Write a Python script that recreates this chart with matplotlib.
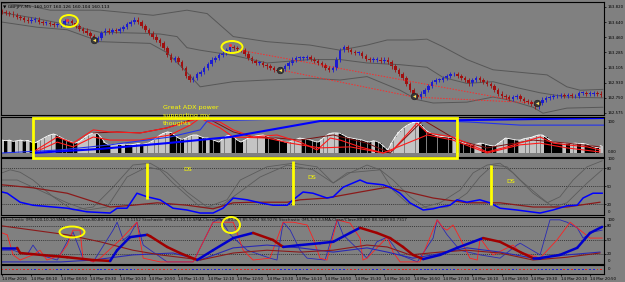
import numpy as np
import matplotlib
matplotlib.use('Agg')
import matplotlib.pyplot as plt
from matplotlib.patches import Rectangle, Ellipse

W, H = 625, 282
BG = '#808080'
BULL = '#1c1cd0'; BEAR = '#a01010'
YEL = '#ffff00'

# ---- price panel (GBPJPY M5 closes, one per bar) ----
closes = [
    163.76, 163.75, 163.74, 163.72, 163.70, 163.69, 163.67, 163.65, 163.67, 163.67,
    163.64, 163.63, 163.63, 163.62, 163.61, 163.61, 163.62, 163.65, 163.65, 163.63,
    163.59, 163.56, 163.54, 163.51, 163.48, 163.43, 163.45, 163.51, 163.54, 163.52,
    163.55, 163.54, 163.56, 163.58, 163.62, 163.64, 163.67, 163.64, 163.59, 163.55,
    163.51, 163.47, 163.43, 163.39, 163.34, 163.25, 163.20, 163.22, 163.17, 163.10,
    163.01, 162.96, 162.98, 163.03, 163.05, 163.10, 163.15, 163.20, 163.22, 163.25,
    163.28, 163.31, 163.35, 163.34, 163.32, 163.31, 163.27, 163.22, 163.18, 163.16,
    163.16, 163.14, 163.12, 163.10, 163.08, 163.07, 163.09, 163.12, 163.16, 163.20,
    163.22, 163.22, 163.22, 163.23, 163.21, 163.18, 163.16, 163.14, 163.10, 163.08,
    163.10, 163.20, 163.31, 163.35, 163.31, 163.29, 163.28, 163.28, 163.24, 163.21,
    163.20, 163.20, 163.20, 163.18, 163.20, 163.17, 163.12, 163.08, 163.03, 162.98,
    162.91, 162.84, 162.78, 162.76, 162.80, 162.84, 162.89, 162.94, 162.96, 162.96,
    162.98, 163.01, 163.03, 163.03, 163.01, 162.98, 162.96, 162.92, 162.96, 162.98,
    162.96, 162.94, 162.91, 162.89, 162.84, 162.80, 162.77, 162.76, 162.74, 162.76,
    162.77, 162.74, 162.71, 162.70, 162.68, 162.65, 162.69, 162.73, 162.75, 162.76,
    162.77, 162.77, 162.78, 162.77, 162.78, 162.77, 162.77, 162.81, 162.81, 162.80,
    162.80, 162.81, 162.80, 162.78]
first_open = 163.77
price_ticks = [163.820, 163.640, 163.460, 163.285, 163.105, 162.930, 162.750, 162.575]

bb_up_x = [0, 7.6, 13.1, 26.7, 34, 41.1, 50.3, 55.8, 62.9, 72.1, 83.8, 92, 99.3, 104.8, 111.8, 115.6, 120, 126.5, 133.6, 141, 148.3, 153.7, 157.3, 163.5]
bb_up_y = [163.86, 163.83, 163.78, 163.78, 163.75, 163.72, 163.78, 163.74, 163.47, 163.41, 163.37, 163.31, 163.37, 163.43, 163.43, 163.44, 163.35, 163.20, 163.08, 163.05, 163.02, 162.88, 162.84, 162.85]
bb_mid_x = [0, 8.4, 17.7, 26.7, 37.6, 43, 47.6, 50.3, 53.9, 62.9, 72.1, 83.8, 92, 99.3, 108.3, 115.6, 120, 126.5, 133.6, 140.1, 146.4, 153.7, 163.5]
bb_mid_y = [163.75, 163.69, 163.61, 163.52, 163.51, 163.50, 163.47, 163.34, 163.31, 163.25, 163.16, 163.20, 163.20, 163.16, 163.14, 163.11, 162.99, 162.92, 162.94, 162.87, 162.81, 162.76, 162.75]
bb_lo_x = [0, 9.5, 17.7, 26.7, 40.3, 44.9, 50.3, 53.9, 62.9, 72.1, 83.8, 92, 99.3, 108.3, 112.9, 117.3, 126.5, 133.6, 137.4, 144.5, 147.2, 153.7, 163.5]
bb_lo_y = [163.64, 163.58, 163.55, 163.41, 163.39, 163.28, 163.05, 162.88, 162.94, 162.96, 162.98, 162.96, 163.00, 162.84, 162.73, 162.69, 162.70, 162.76, 162.73, 162.64, 162.57, 162.63, 162.64]

signal_x = [25, 75.6, 112, 145.6]
signal_y = [163.43, 163.08, 162.77, 162.69]
mark_x = [17.7, 62]
mark_y = [163.67, 163.37]
trend_lines = [((64.8, 163.31), (138.2, 162.73)),
               ((75.6, 163.08), (112.1, 162.76)),
               ((112.1, 162.76), (145.6, 162.69))]

# ---- ADX panel ----
adx_hist = [
    38, 36, 38, 34, 36, 38, 35, 37, 32, 30,
    36, 42, 48, 53, 56, 52, 46, 40, 36, 32,
    29, 34, 42, 50, 56, 59, 57, 45, 30, 24,
    25, 26, 24, 27, 25, 24, 26, 28, 25, 27,
    30, 36, 45, 53, 58, 62, 60, 52, 44, 40,
    44, 50, 53, 53, 48, 44, 44, 40, 36, 32,
    42, 50, 53, 48, 38, 32, 38, 44, 47, 50,
    52, 53, 50, 45, 44, 40, 36, 32, 32, 36,
    40, 44, 42, 40, 38, 34, 32, 40, 50, 57,
    59, 59, 58, 52, 46, 44, 42, 40, 38, 34,
    32, 36, 34, 28, 18, 9, 30, 48, 62, 72,
    80, 86, 90, 91, 82, 70, 62, 56, 52, 49,
    48, 47, 46, 46, 40, 32, 28, 26, 24, 26,
    29, 28, 24, 22, 20, 28, 36, 44, 42, 40,
    38, 38, 42, 44, 46, 50, 53, 53, 46, 38,
    32, 30, 29, 29, 28, 28, 29, 28, 28, 26,
    22, 18, 16, 22]
adx_blueA_x = [8.4, 26.7, 44.9, 62, 86.5, 108.3, 127.3, 163.8]
adx_blueA_y = [0, 12, 29, 47, 94, 94, 97, 103]
adx_blueB_x = [0, 15.8, 29.4, 45.7, 53.9, 55.8, 86.5, 113.7, 127.3, 141, 163.8]
adx_blueB_y = [0, 9, 24, 47, 68, 94, 103, 97, 91, 82, 82]
adx_red1_x = [8.4, 15, 19.3, 24.8, 29.4, 37.6, 44.9, 53.9, 59.3, 62.9, 68.3, 74.8, 81.1, 85.7, 89.3, 92, 97.4, 103.7, 106.4, 112.9, 115.7, 119.2, 122.7, 132, 137.4, 146.4, 150, 153.7, 159.2, 162.7]
adx_red1_y = [3, 47, 29, 68, 62, 59, 74, 103, 91, 68, 47, 53, 32, 9, 44, 38, 18, 0, 9, 88, 59, 53, 47, 3, 18, 47, 29, 24, 18, 9]
adx_red2_x = [8.4, 15, 19.3, 24.8, 29.4, 37.6, 45.7, 51.2, 53.9, 59.3, 62.9, 72.1, 78.4, 86.5, 94.7, 103.7, 115.7, 122.7, 132, 141, 146.4, 153.7, 162.7]
adx_red2_y = [0, 32, 18, 47, 38, 38, 53, 82, 103, 74, 47, 44, 29, 15, 18, 0, 53, 38, 0, 24, 29, 15, 3]
adx_dark_x = [24.8, 31.3, 37.6, 44.9, 51.2, 55.8, 62.9, 68.3, 74.8, 81.1, 90.1, 99.3, 105.6, 114.6, 123.8, 132, 144.5, 153.7, 162.7]
adx_dark_y = [59, 62, 59, 74, 97, 103, 62, 47, 44, 38, 53, 29, 0, 97, 38, 15, 38, 29, 18]

# ---- oscillator panel 3 ----
p3_blue_x = [0, 1.4, 4.9, 8.4, 17.7, 23.1, 29.4, 31.3, 34, 36.7, 39.5, 43, 46.5, 50.3, 53.9, 57.4, 60.1, 62.9, 66.7, 70.2, 73.7, 77.6, 79.2, 81.9, 84.6, 88.4, 90.1, 92.8, 97.4, 99.3, 103.7, 105.6, 108.3, 111, 114.6, 117.3, 119.2, 121.9, 123.8, 126.5, 130, 132.8, 135.5, 140.1, 146.4, 149.9, 153.7, 156.5, 158.1, 160.8, 163.3]
p3_blue_y = [40, 38, 23, 18, 13, 7, 5, 13, 13, 38, 32, 27, 13, 10, 5, 5, 13, 30, 27, 22, 18, 18, 27, 40, 38, 30, 32, 48, 60, 55, 52, 48, 38, 22, 10, 12, 15, 18, 27, 23, 27, 22, 13, 10, 5, 10, 17, 18, 30, 38, 38]
p3_red_x = [0, 8.4, 17.7, 29.4, 35.6, 42.2, 50.3, 57.4, 62.9, 68.3, 77.6, 81.1, 88.4, 97.4, 104.8, 108.3, 117.3, 126.5, 135.5, 144.5, 153.7, 162.7]
p3_red_y = [52, 47, 38, 15, 18, 22, 18, 12, 22, 23, 23, 27, 30, 40, 48, 43, 30, 22, 22, 15, 15, 23]
p3_gray1_x = [0, 2.2, 4.9, 8.4, 13.9, 19.3, 24.8, 30.2, 35.6, 40.3, 44.9, 50.3, 55.8, 61.2, 64.8, 72.1, 79.2, 85.7, 90.1, 94.7, 99.3, 102.9, 106.4, 110.2, 113.7, 119.2, 124.6, 128.2, 132, 135.5, 139, 144.5, 148.3, 151.8, 155.4, 159.2, 163.3]
p3_gray1_y = [72, 77, 73, 60, 32, 10, 15, 48, 85, 88, 72, 40, 15, 27, 60, 82, 88, 82, 55, 72, 85, 77, 43, 22, 13, 22, 43, 72, 85, 88, 72, 38, 22, 32, 60, 82, 92]
p3_gray2_x = [0, 4.1, 8.4, 17.7, 23.1, 28.6, 34, 39.5, 43, 46.5, 53.9, 59.3, 62.9, 70.2, 77.6, 84.6, 90.1, 93.9, 102.9, 106.4, 111, 115.6, 121.1, 126.5, 130, 133.6, 137.4, 141, 146.4, 149.9, 153.7, 159.2, 163.3]
p3_gray2_y = [60, 60, 48, 22, 10, 15, 65, 82, 77, 55, 15, 15, 32, 65, 85, 77, 55, 72, 77, 60, 32, 13, 15, 38, 65, 85, 82, 60, 32, 15, 22, 55, 77]
ds_bar_x = [39.5, 79.2, 133.1]
ds_bar_top = [88, 92, 85]
ds_bar_bot = [28, 18, 18]
ds_x = [50.6, 84.4, 138.5]
ds_y = [77, 65, 57]

# ---- stochastic panel 4 ----
st_slow_x = [0, 4.1, 4.9, 17.7, 24.8, 29.4, 31.3, 34.8, 39.5, 40.3, 44.9, 48.4, 53.1, 57.4, 62.9, 68.3, 73.7, 76.5, 81.1, 86.5, 90.1, 94.7, 97.4, 102, 105.6, 109.1, 111.8, 114.6, 119.2, 123.8, 128.2, 130.9, 135.5, 141, 144.5, 146.4, 151.8, 156.5, 160, 163.3]
st_slow_y = [33, 33, 22, 13, 7, 5, 28, 56, 61, 58, 35, 22, 7, 28, 54, 65, 50, 35, 39, 43, 46, 65, 76, 65, 54, 35, 18, 9, 18, 33, 46, 54, 46, 24, 11, 11, 18, 33, 65, 78]
st_sig_x = [0, 8.4, 17.7, 26.7, 35.6, 43, 50.3, 53.9, 62.9, 72.1, 81.1, 90.1, 99.3, 104.8, 111, 119.2, 126.5, 135.5, 144.5, 153.7, 162.7]
st_sig_y = [80, 71, 61, 46, 28, 18, 11, 7, 22, 28, 24, 28, 39, 35, 18, 24, 28, 22, 7, 13, 22]
st_mid_x = [0, 16, 24.8, 35.6, 46.5, 53.9, 62.9, 72.1, 81.1, 90.1, 99.3, 104.8, 111.8, 117.3, 126.5, 135.5, 144.5, 153.7, 162.7]
st_mid_y = [3, 3, 7, 18, 22, 7, 33, 39, 33, 24, 33, 24, 11, 18, 33, 24, 11, 18, 24]
st_fastr_x = [0, 1.4, 3, 4.9, 8.4, 10.3, 12.2, 15.8, 17.7, 19.3, 21.2, 22, 24.8, 26.7, 32.1, 36.7, 38.4, 43, 52, 57.4, 62.9, 65.6, 68.3, 72.9, 76.5, 79.2, 83, 84.6, 86.5, 88.4, 91.2, 94.7, 97.4, 98.2, 99.3, 102, 104.8, 106.4, 108.3, 113.7, 118.4, 120, 121.1, 122.7, 124.6, 127.3, 129.3, 130.1, 132, 133.6, 139, 141, 143.7, 146.4, 151, 154.6, 156.5, 160, 163.3]
st_fastr_y = [65, 61, 18, 7, 18, 28, 7, 18, 39, 71, 71, 11, 3, 11, 50, 88, 11, 3, 3, 88, 88, 28, 7, 11, 88, 88, 82, 54, 11, 7, 93, 86, 54, 7, 11, 33, 56, 24, 3, 3, 93, 76, 71, 82, 54, 11, 7, 54, 33, 18, 39, 24, 18, 11, 50, 88, 76, 54, 54]
st_fastb_x = [0, 3, 6.8, 8.4, 10.3, 15, 17.7, 19.3, 22, 24.8, 30.2, 31.3, 33, 34.8, 36.7, 38.4, 44.9, 52, 57.4, 59.3, 62.1, 66.7, 72.9, 74.8, 76.5, 78.4, 81.1, 83, 87.9, 90.1, 91.2, 92.8, 99.3, 102, 104.8, 108.3, 113, 117.3, 118.4, 121.1, 124.6, 130.1, 135.5, 140.1, 141, 146.4, 149.1, 151.8, 153.7, 156.5, 158.1, 160.8, 163.3]
st_fastb_y = [28, 28, 18, 39, 18, 7, 46, 67, 11, 3, 71, 88, 50, 61, 88, 39, 3, 3, 88, 97, 61, 28, 11, 7, 88, 71, 28, 11, 7, 67, 93, 61, 11, 46, 56, 18, 3, 54, 93, 61, 28, 18, 11, 39, 43, 18, 93, 93, 88, 76, 54, 67, 71]

time_labels = ['14 Mar 2016', '14 Mar 08:10', '14 Mar 08:50', '14 Mar 09:30', '14 Mar 10:10',
               '14 Mar 10:50', '14 Mar 11:30', '14 Mar 12:10', '14 Mar 12:50', '14 Mar 13:30',
               '14 Mar 14:10', '14 Mar 14:50', '14 Mar 15:30', '14 Mar 16:10', '14 Mar 16:50',
               '14 Mar 17:30', '14 Mar 18:10', '14 Mar 18:50', '14 Mar 19:30', '14 Mar 20:10',
               '14 Mar 20:50']
bars_per_label = 8

TXT = 2.8
fig = plt.figure(figsize=(W/100, H/100), dpi=100, facecolor=BG)

def box(x0, y0, x1, y1):
    ax = fig.add_axes([x0/W, 1-y1/H, (x1-x0)/W, (y1-y0)/H], facecolor=BG)
    for s in ax.spines.values():
        s.set_color('black'); s.set_linewidth(0.8)
    ax.set_xlim(-0.3, 163.8)
    ax.set_xticks([])
    ax.yaxis.tick_right()
    ax.tick_params(axis='y', labelsize=TXT, length=1.5, width=0.5, pad=0.8, colors='black')
    return ax

def edge_label(ax, txt, yfrac):
    ax.text(1.006, yfrac, txt, transform=ax.transAxes, fontsize=TXT, va='center', ha='left')

n = len(closes)
idx = np.arange(n)
c = np.array(closes)
o = np.array([first_open] + closes[:-1])
up = c >= o

# price
ax1 = box(1, 2, 604, 115)
ax1.set_ylim(162.549, 163.876)
ax1.plot(bb_up_x, bb_up_y, color='#575757', lw=0.7)
ax1.plot(bb_mid_x, bb_mid_y, color='#575757', lw=0.7)
ax1.plot(bb_lo_x, bb_lo_y, color='#575757', lw=0.7)
for (xa, ya), (xb, yb) in trend_lines:
    ax1.plot([xa, xb], [ya, yb], color='#ff2a2a', lw=0.7, ls=(0, (1.5, 1.5)))
cols = np.where(up, BULL, BEAR)
ax1.vlines(idx, np.minimum(o, c) - 0.025, np.maximum(o, c) + 0.025, color=cols, lw=0.6)
ax1.bar(idx, np.maximum(np.abs(c - o), 0.006), bottom=np.minimum(o, c), width=0.7, color=cols, lw=0)
ax1.scatter(signal_x, signal_y, s=22, color='#3a3a3a', edgecolor='#222222', lw=0.5, zorder=5)
ax1.scatter(signal_x, signal_y, s=5, marker='<', color='#ffe060', lw=0, zorder=6)
ax1.scatter(mark_x, mark_y, s=5, color='#ff3030', lw=0, zorder=6)
ax1.set_yticks(price_ticks)
ax1.set_yticklabels([f'{v:.3f}' for v in price_ticks])
fig.text(3/W, 1-7/H, '\u25bc GBPJPY,M5  160.107 160.126 160.104 160.113', fontsize=3.2, va='center', color='black')

# ADX
ax2 = box(1, 117, 604, 157)
ax2.set_ylim(-11.8, 105.9)
h = np.array(adx_hist)
rising = np.r_[True, h[1:] >= h[:-1]]
ax2.bar(idx, h, width=0.85, color=np.where(rising, '#c4c4c4', '#000000'), lw=0)
ax2.plot(idx, h, color='white', lw=0.6)
ax2.plot(adx_dark_x, adx_dark_y, color='#7a1010', lw=0.7)
ax2.plot(adx_red2_x, adx_red2_y, color='#ff1a1a', lw=0.8)
ax2.plot(adx_red1_x, adx_red1_y, color='#ff1a1a', lw=0.8)
ax2.plot(adx_blueB_x, adx_blueB_y, color='#2233ee', lw=0.8)
ax2.plot(adx_blueA_x, adx_blueA_y, color='#0000ff', lw=1.5)
ax2.set_yticks([])
edge_label(ax2, '100', 0.88)
edge_label(ax2, '0.00', 0.12)

# oscillator 3
ax3 = box(1, 158, 604, 215)
ax3.set_ylim(1.7, 96.7)
for lv in [80, 50, 20]:
    ax3.axhline(lv, color='#202020', lw=0.5, ls=(0, (1.5, 1.5)))
ax3.plot(p3_gray1_x, p3_gray1_y, color='#5c5c5c', lw=0.6)
ax3.plot(p3_gray2_x, p3_gray2_y, color='#5c5c5c', lw=0.6)
ax3.plot(p3_red_x, p3_red_y, color='#8b1a1a', lw=0.9)
ax3.plot(p3_blue_x, p3_blue_y, color='#0000ff', lw=1.1)
ax3.vlines(ds_bar_x, ds_bar_bot, ds_bar_top, color=YEL, lw=2)
for x, y in zip(ds_x, ds_y):
    ax3.text(x, y, 'DS', color=YEL, fontsize=4.5, ha='center', va='center')
ax3.set_yticks([80, 50, 20])
edge_label(ax3, '100', 0.98)
edge_label(ax3, '0', 0.05)

# stochastic 4
ax4 = box(1, 217, 604, 264)
ax4.set_ylim(-1.5, 99.1)
for lv in [80, 50, 20]:
    ax4.axhline(lv, color='#202020', lw=0.5, ls=(0, (1.5, 1.5)))
ax4.plot(st_fastb_x, st_fastb_y, color='#2a2ab4', lw=0.6)
ax4.plot(st_fastr_x, st_fastr_y, color='#ff2020', lw=0.6)
ax4.plot(st_mid_x, st_mid_y, color='#2a2ab4', lw=0.8)
ax4.plot(st_sig_x, st_sig_y, color='#8b1a1a', lw=0.8)
for k in range(len(st_slow_x) - 1):
    col = '#0000cc' if st_slow_y[k + 1] >= st_slow_y[k] else '#a00000'
    ax4.plot(st_slow_x[k:k + 2], st_slow_y[k:k + 2], color=col, lw=1.8, solid_capstyle='round')
ax4.set_yticks([80, 50, 20])
edge_label(ax4, '100', 0.93)
edge_label(ax4, '0', 0.07)
ax4.text(0.003, 0.93, 'Stochastic (M5,100,10,10,SMA,Close/Close,80,80) 66.8771 78.1152 '
         'Stochastic (M5,21,10,10,SMA,Close/Close,80,80) 85.9264 98.9276 '
         'Stochastic (M5,5,3,3,SMA,Close/Close,80,80) 88.3289 80.7317',
         transform=ax4.transAxes, fontsize=3.0, va='center', ha='left', color='#101010')

# dots row + time axis
ax5 = box(1, 265, 604, 274)
ax5.set_ylim(0, 1)
ax5.scatter(idx, np.full(n, 0.5), s=1.6, marker='s', color=np.where(up, '#2020e0', '#e02020'), lw=0)
ax5.set_yticks([])
edge_label(ax5, '0', 0.5)
ax5.set_xticks(np.arange(len(time_labels)) * bars_per_label)
ax5.set_xticklabels(time_labels, ha='left')
ax5.tick_params(axis='x', labelsize=TXT, length=1.5, width=0.5, pad=0.8, colors='black')

# annotations
fig.patches.append(Rectangle((33/W, 1-158/H), 424/W, 40/H, transform=fig.transFigure,
                             fill=False, ec=YEL, lw=2))
for cx, cy, w, hh in [(69, 21, 18, 12), (232, 47, 21, 12), (72, 232, 25, 11), (231, 225, 18, 16)]:
    fig.patches.append(Ellipse((cx/W, 1-cy/H), w/W, hh/H, transform=fig.transFigure,
                               fill=False, ec=YEL, lw=1.4))
for k, line in enumerate(['Great ADX power', 'supporting my', 'thoughts']):
    fig.text(163/W, 1-(108 + 8*k)/H, line, color=YEL, fontsize=4.6, va='center')

fig.savefig('out.png', dpi=100, facecolor=BG)
